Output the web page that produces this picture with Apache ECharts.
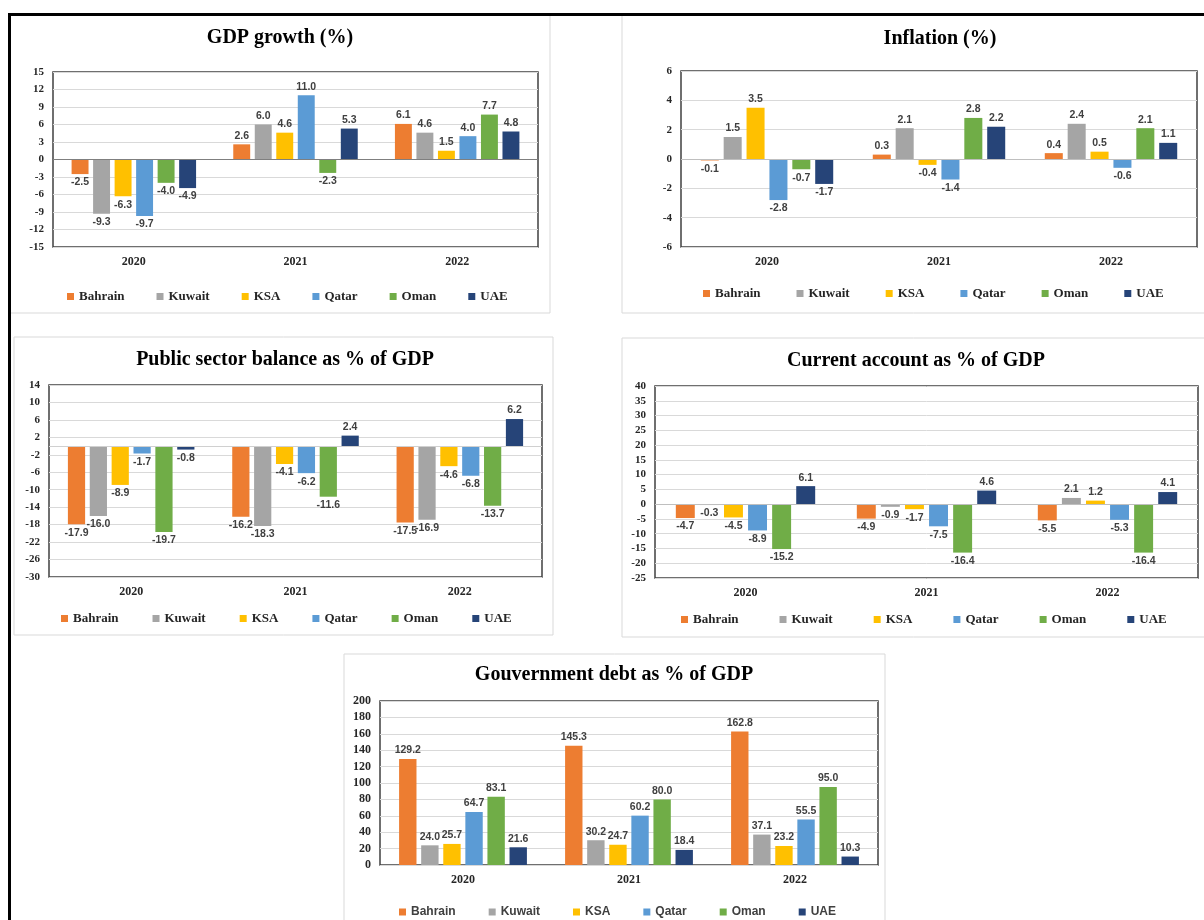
<!DOCTYPE html>
<html><head><meta charset="utf-8">
<script src="https://cdn.jsdelivr.net/npm/echarts@6/dist/echarts.min.js"></script>
<style>html,body{margin:0;padding:0;background:#fff}#c{width:1204px;height:920px}</style>
</head><body><div id="c"></div>
<script>
const countries = ['Bahrain','Kuwait','KSA','Qatar','Oman','UAE'];
const years = ['2020','2021','2022'];
const colors = ['#ED7D31','#A5A5A5','#FFC000','#5B9BD5','#70AD47','#264478'];

// rows follow `countries`, columns follow `years`
const gdpGrowth = [
  [-2.5, 2.6, 6.1],
  [-9.3, 6.0, 4.6],
  [-6.3, 4.6, 1.5],
  [-9.7, 11.0, 4.0],
  [-4.0, -2.3, 7.7],
  [-4.9, 5.3, 4.8]
];
const inflation = [
  [-0.1, 0.3, 0.4],
  [1.5, 2.1, 2.4],
  [3.5, -0.4, 0.5],
  [-2.8, -1.4, -0.6],
  [-0.7, 2.8, 2.1],
  [-1.7, 2.2, 1.1]
];
const publicBalance = [
  [-17.9, -16.2, -17.5],
  [-16.0, -18.3, -16.9],
  [-8.9, -4.1, -4.6],
  [-1.7, -6.2, -6.8],
  [-19.7, -11.6, -13.7],
  [-0.8, 2.4, 6.2]
];
const currentAccount = [
  [-4.7, -4.9, -5.5],
  [-0.3, -0.9, 2.1],
  [-4.5, -1.7, 1.2],
  [-8.9, -7.5, -5.3],
  [-15.2, -16.4, -16.4],
  [6.1, 4.6, 4.1]
];
const govDebt = [
  [129.2, 145.3, 162.8],
  [24.0, 30.2, 37.1],
  [25.7, 24.7, 23.2],
  [64.7, 60.2, 55.5],
  [83.1, 80.0, 95.0],
  [21.6, 18.4, 10.3]
];

const gdpTicks = [-15,-12,-9,-6,-3,0,3,6,9,12,15];
const inflationTicks = [-6,-4,-2,0,2,4,6];
const balanceTicks = [-30,-26,-22,-18,-14,-10,-6,-2,2,6,10,14];
const accountTicks = [-25,-20,-15,-10,-5,0,5,10,15,20,25,30,35,40];
const debtTicks = [0,20,40,60,80,100,120,140,160,180,200];

const titles = ['GDP growth (%)','Inflation (%)','Public sector balance as % of GDP','Current account as % of GDP','Gouvernment debt as % of GDP'];

const SERIF = '"Liberation Serif","Times New Roman",serif';
const SANS = '"Liberation Sans",Arial,sans-serif';

const panels = [
  {data:gdpGrowth, ticks:gdpTicks, grid:{left:53,top:72,width:485,height:175}, tx:280, ty:38, lx:67, ly:296, gap:32, zero:'#7F7F7F', box:[10,14,540,299], yfs:11, legFont:SERIF},
  {data:inflation, ticks:inflationTicks, grid:{left:681,top:71,width:516,height:176}, tx:940, ty:39, lx:703, ly:293, gap:36, zero:'#BFBFBF', box:[622,14,600,299], yfs:11, legFont:SERIF},
  {data:publicBalance, ticks:balanceTicks, custom:true, grid:{left:49,top:385,width:493,height:192}, tx:285, ty:360, lx:61, ly:618, gap:34, zero:'#D0D0D0', box:[14,337,539,298], yfs:11, legFont:SERIF},
  {data:currentAccount, ticks:accountTicks, grid:{left:655,top:386,width:543,height:192}, tx:916, ty:361, lx:681, ly:619, gap:41, zero:'#BFBFBF', box:[622,338,600,299], yfs:11, legFont:SERIF},
  {data:govDebt, ticks:debtTicks, grid:{left:380,top:701,width:498,height:164}, tx:614, ty:675, lx:399, ly:912, gap:33, zero:null, box:[344,654,541,300], yfs:12, legFont:SANS}
];

const grids = [], xAxes = [], yAxes = [], series = [], legends = [], graphics = [];

panels.forEach((p, i) => {
  graphics.push({type:'rect', shape:{x:p.box[0], y:p.box[1], width:p.box[2], height:p.box[3]}, style:{fill:'none', stroke:'#D9D9D9', lineWidth:1}, z:-5});
  graphics.push({type:'text', x:p.tx, y:p.ty, style:{text:titles[i], font:'bold 20px ' + SERIF, fill:'#000', textAlign:'center', textVerticalAlign:'middle'}});
  grids.push(Object.assign({show:true, borderColor:'#404040', borderWidth:1.5, backgroundColor:'#fff', containLabel:false}, p.grid));
  xAxes.push({type:'category', gridIndex:i, data:years, axisLine:{show:false}, axisTick:{show:false},
    axisLabel:{fontFamily:SERIF, fontWeight:'bold', fontSize:12, color:'#262626', margin:9}});
  const t = p.ticks;
  const y = {type:'value', gridIndex:i, min:t[0], max:t[t.length-1], interval:t[1]-t[0],
    axisLine:{show:false}, axisTick:{show:false},
    splitLine:{show:true, lineStyle:{color:'#D9D9D9', width:1}},
    axisLabel:{fontFamily:SERIF, fontWeight:'bold', fontSize:p.yfs, color:'#262626', margin:9}};
  if (p.custom) {
    y.axisLabel.customValues = t;
    y.axisTick.customValues = t;
  }
  yAxes.push(y);
  const sans = p.legFont === SANS;
  legends.push({left:p.lx, top:p.ly-6, padding:0, itemWidth:7, itemHeight:7, itemGap:p.gap, icon:'rect', selectedMode:false,
    textStyle:{fontFamily:p.legFont, fontWeight:'bold', fontSize:sans?12:13, color:sans?'#404040':'#262626'},
    data:countries});
  countries.forEach((c, k) => {
    const s = {type:'bar', name:c, xAxisIndex:i, yAxisIndex:i,
      barGap:'27%', barCategoryGap:'23%',
      itemStyle:{color:colors[k]},
      data:p.data[k].map(v => ({value:v, label:{position: v < 0 ? 'bottom' : 'top'}})),
      label:{show:true, formatter:d => Number(d.value).toFixed(1), fontFamily:SANS, fontWeight:'bold', fontSize:10.5, color:'#404040', distance:3}};
    if (k === 0 && p.zero) {
      s.markLine = {silent:true, symbol:'none', label:{show:false}, animation:false,
        lineStyle:{color:p.zero, type:'solid', width:1.2}, data:[{yAxis:0}]};
    }
    series.push(s);
  });
});

graphics.push({type:'rect', shape:{x:8, y:13, width:1196, height:3}, style:{fill:'#000'}});
graphics.push({type:'rect', shape:{x:8, y:13, width:3, height:907}, style:{fill:'#000'}});

const chart = echarts.init(document.getElementById('c'), null, {renderer:'canvas'});
chart.setOption({animation:false, backgroundColor:'#fff', grid:grids, xAxis:xAxes, yAxis:yAxes, legend:legends, series:series, graphic:graphics});
</script></body></html>
